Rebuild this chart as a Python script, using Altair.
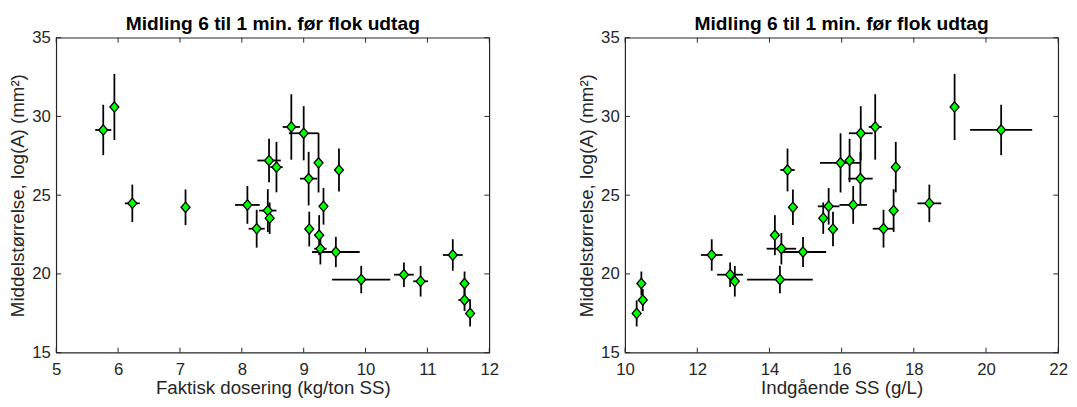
import altair as alt
import pandas as pd

# ---- data ----
mean_size = [29.14, 30.6, 24.48, 24.23, 24.38, 22.87, 24.02, 23.54, 27.2, 26.78,
             29.33, 28.93, 26.05, 22.85, 27.05, 22.46, 21.6, 24.29, 21.39, 26.6,
             19.64, 19.95, 19.53, 21.2, 19.39, 18.34, 17.49]
size_err = [1.6, 2.1, 1.19, 1.13, 1.2, 1.2, 1.36, 1.0, 1.38, 1.6,
            2.08, 1.72, 1.7, 1.1, 1.88, 1.27, 1.0, 1.16, 0.96, 1.36,
            0.87, 0.78, 0.97, 1.0, 0.76, 0.7, 0.83]
dosing = [5.76, 5.94, 6.23, 7.09, 8.09, 8.24, 8.42, 8.45, 8.44, 8.56,
          8.80, 9.0, 9.08, 9.09, 9.24, 9.25, 9.27, 9.32, 9.52, 9.57,
          9.93, 10.62, 10.89, 11.41, 11.6, 11.6, 11.69]
dosing_err = [0.13, 0.03, 0.12, 0.05, 0.2, 0.13, 0.14, 0.05, 0.19, 0.1,
              0.14, 0.24, 0.14, 0.05, 0.05, 0.08, 0.1, 0.05, 0.385, 0.05,
              0.47, 0.16, 0.12, 0.16, 0.05, 0.1, 0.05]
ss_in = [20.42, 19.13, 18.43, 14.65, 16.32, 17.16, 17.44, 15.49, 16.22, 17.5,
         16.93, 16.53, 16.52, 15.76, 15.97, 14.15, 14.33, 15.64, 14.93, 14.5,
         14.29, 12.91, 13.04, 12.4, 10.45, 10.49, 10.32]
ss_err = [0.86, 0.05, 0.33, 0.05, 0.38, 0.3, 0.05, 0.1, 0.08, 0.05,
          0.18, 0.33, 0.34, 0.05, 0.57, 0.05, 0.41, 0.3, 0.64, 0.2,
          0.91, 0.36, 0.1, 0.3, 0.05, 0.05, 0.05]

x_ticks_left = [5, 6, 7, 8, 9, 10, 11, 12]
x_ticks_right = [10, 12, 14, 16, 18, 20, 22]
y_ticks = [15, 20, 25, 30, 35]

title_text = "Midling 6 til 1 min. før flok udtag"
y_title = "Middelstørrelse, log(A) (mm²)"

W, H = 440, 320
FONT = "Liberation Sans"
AX = "#262626"
TICK = 5

df = pd.DataFrame({"y": mean_size, "ye": size_err,
                   "dose": dosing, "dose_e": dosing_err,
                   "ss": ss_in, "ss_e": ss_err})
df["ylo"] = df["y"] - df["ye"]
df["yhi"] = df["y"] + df["ye"]
df["dose_lo"] = df["dose"] - df["dose_e"]
df["dose_hi"] = df["dose"] + df["dose_e"]
df["ss_lo"] = df["ss"] - df["ss_e"]
df["ss_hi"] = df["ss"] + df["ss_e"]

diamond = "M0,-1L0.87,0L0,1L-0.87,0Z"


def panel(xf, domain, xticks, xtitle):
    sx = alt.Scale(domain=domain, nice=False, zero=False)
    sy = alt.Scale(domain=[15, 35], nice=False, zero=False)
    xaxis = alt.Axis(values=xticks, title=xtitle, ticks=False, domain=False, grid=False,
                     labelFlush=False, labelPadding=9, titlePadding=2,
                     labelFontSize=17, titleFontSize=19, labelFont=FONT, titleFont=FONT,
                     labelColor=AX, titleColor=AX, titleFontWeight="normal")
    yaxis = alt.Axis(values=y_ticks, title=y_title, ticks=False, domain=False, grid=False,
                     labelFlush=False, labelPadding=6, titlePadding=4,
                     labelFontSize=17, titleFontSize=19, labelFont=FONT, titleFont=FONT,
                     labelColor=AX, titleColor=AX, titleFontWeight="normal")
    base = alt.Chart(df)
    pts = base.mark_point(shape=diamond, size=110, filled=True, fill="#00ff00",
                          stroke="black", strokeWidth=1.3, opacity=1).encode(
        x=alt.X(f"{xf}:Q", scale=sx, axis=xaxis),
        y=alt.Y("y:Q", scale=sy, axis=yaxis))
    hbars = base.mark_rule(color="black", strokeWidth=1.8).encode(
        x=alt.X(f"{xf}_lo:Q", scale=sx, axis=xaxis), x2=f"{xf}_hi:Q",
        y=alt.Y("y:Q", scale=sy, axis=yaxis))
    vbars = base.mark_rule(color="black", strokeWidth=1.8).encode(
        x=alt.X(f"{xf}:Q", scale=sx, axis=xaxis),
        y=alt.Y("ylo:Q", scale=sy, axis=yaxis), y2="yhi:Q")
    xt = alt.Chart(pd.DataFrame({"t": xticks}))
    yt = alt.Chart(pd.DataFrame({"t": y_ticks}))
    tb = xt.mark_rule(color=AX, strokeWidth=1).encode(
        x=alt.X("t:Q", scale=sx, axis=xaxis), y=alt.value(H), y2=alt.value(H - TICK))
    tt = xt.mark_rule(color=AX, strokeWidth=1).encode(
        x=alt.X("t:Q", scale=sx, axis=xaxis), y=alt.value(0), y2=alt.value(TICK))
    tl = yt.mark_rule(color=AX, strokeWidth=1).encode(
        y=alt.Y("t:Q", scale=sy, axis=yaxis), x=alt.value(0), x2=alt.value(TICK))
    tr = yt.mark_rule(color=AX, strokeWidth=1).encode(
        y=alt.Y("t:Q", scale=sy, axis=yaxis), x=alt.value(W - TICK), x2=alt.value(W))
    return alt.layer(tb, tt, tl, tr, hbars, vbars, pts).properties(
        width=W, height=H,
        title=alt.TitleParams(title_text, fontSize=19.5, fontWeight="bold", font=FONT,
                              color="black", anchor="middle", offset=-6))


left = panel("dose", [5, 12], x_ticks_left, "Faktisk dosering (kg/ton SS)")
right = panel("ss", [10, 22], x_ticks_right, "Indgående SS (g/L)")

chart = alt.hconcat(left, right, spacing=78).properties(
    padding={"left": 0, "top": 2, "right": 0, "bottom": 0}
).configure_view(stroke=AX, strokeWidth=1.2)

chart.save("out.html", embed_options={"renderer": "svg", "actions": False})
